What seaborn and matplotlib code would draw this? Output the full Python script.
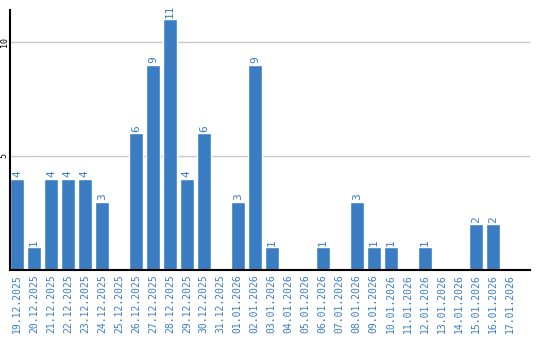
import matplotlib
matplotlib.use("Agg")
import matplotlib.pyplot as plt
import seaborn as sns
import pandas as pd

dates = ["19.12.2025", "20.12.2025", "21.12.2025", "22.12.2025", "23.12.2025",
         "24.12.2025", "25.12.2025", "26.12.2025", "27.12.2025", "28.12.2025",
         "29.12.2025", "30.12.2025", "31.12.2025", "01.01.2026", "02.01.2026",
         "03.01.2026", "04.01.2026", "05.01.2026", "06.01.2026", "07.01.2026",
         "08.01.2026", "09.01.2026", "10.01.2026", "11.01.2026", "12.01.2026",
         "13.01.2026", "14.01.2026", "15.01.2026", "16.01.2026", "17.01.2026"]
values = [4, 1, 4, 4, 4, 3, 0, 6, 9, 11, 4, 6, 0, 3, 9, 1, 0, 0, 1, 0,
          3, 1, 1, 0, 1, 0, 0, 2, 2, 0]
yticks = [5, 10]

df = pd.DataFrame({"date": dates, "value": values})

sns.set_style("white")
plt.rcParams["font.family"] = ["DejaVu Sans Mono", "DejaVu Sans"]

blue = "#3a7dc3"
fig = plt.figure(figsize=(5.4, 3.4), dpi=100)
ax = fig.add_axes([10 / 540, 70 / 340, 520 / 540, 260 / 340])

sns.barplot(data=df, x="date", y="value", color=blue, saturation=1, width=0.82, ax=ax)

labels = [str(v) if v else "" for v in values]
ax.bar_label(ax.containers[0], labels=labels, rotation=90, color=blue,
             fontsize=8, padding=1)

ax.set_xlim(-0.41, 30.2)
ax.set_ylim(0, 11.4)
ax.set_yticks(yticks)
ax.set_yticklabels([str(t) for t in yticks], rotation=90, va="center",
                   fontsize=6, color="black")
ax.tick_params(axis="y", length=0, pad=1)
ax.tick_params(axis="x", length=0, pad=3, labelrotation=90, labelsize=7,
               labelcolor=blue)
ax.yaxis.grid(True, color="#c8c8c8", linewidth=1)
ax.set_axisbelow(True)
ax.set_xlabel("")
ax.set_ylabel("")
for s in ["top", "right"]:
    ax.spines[s].set_visible(False)
for s in ["left", "bottom"]:
    ax.spines[s].set_color("black")
    ax.spines[s].set_linewidth(1.5)

fig.savefig("out.png", dpi=100)
